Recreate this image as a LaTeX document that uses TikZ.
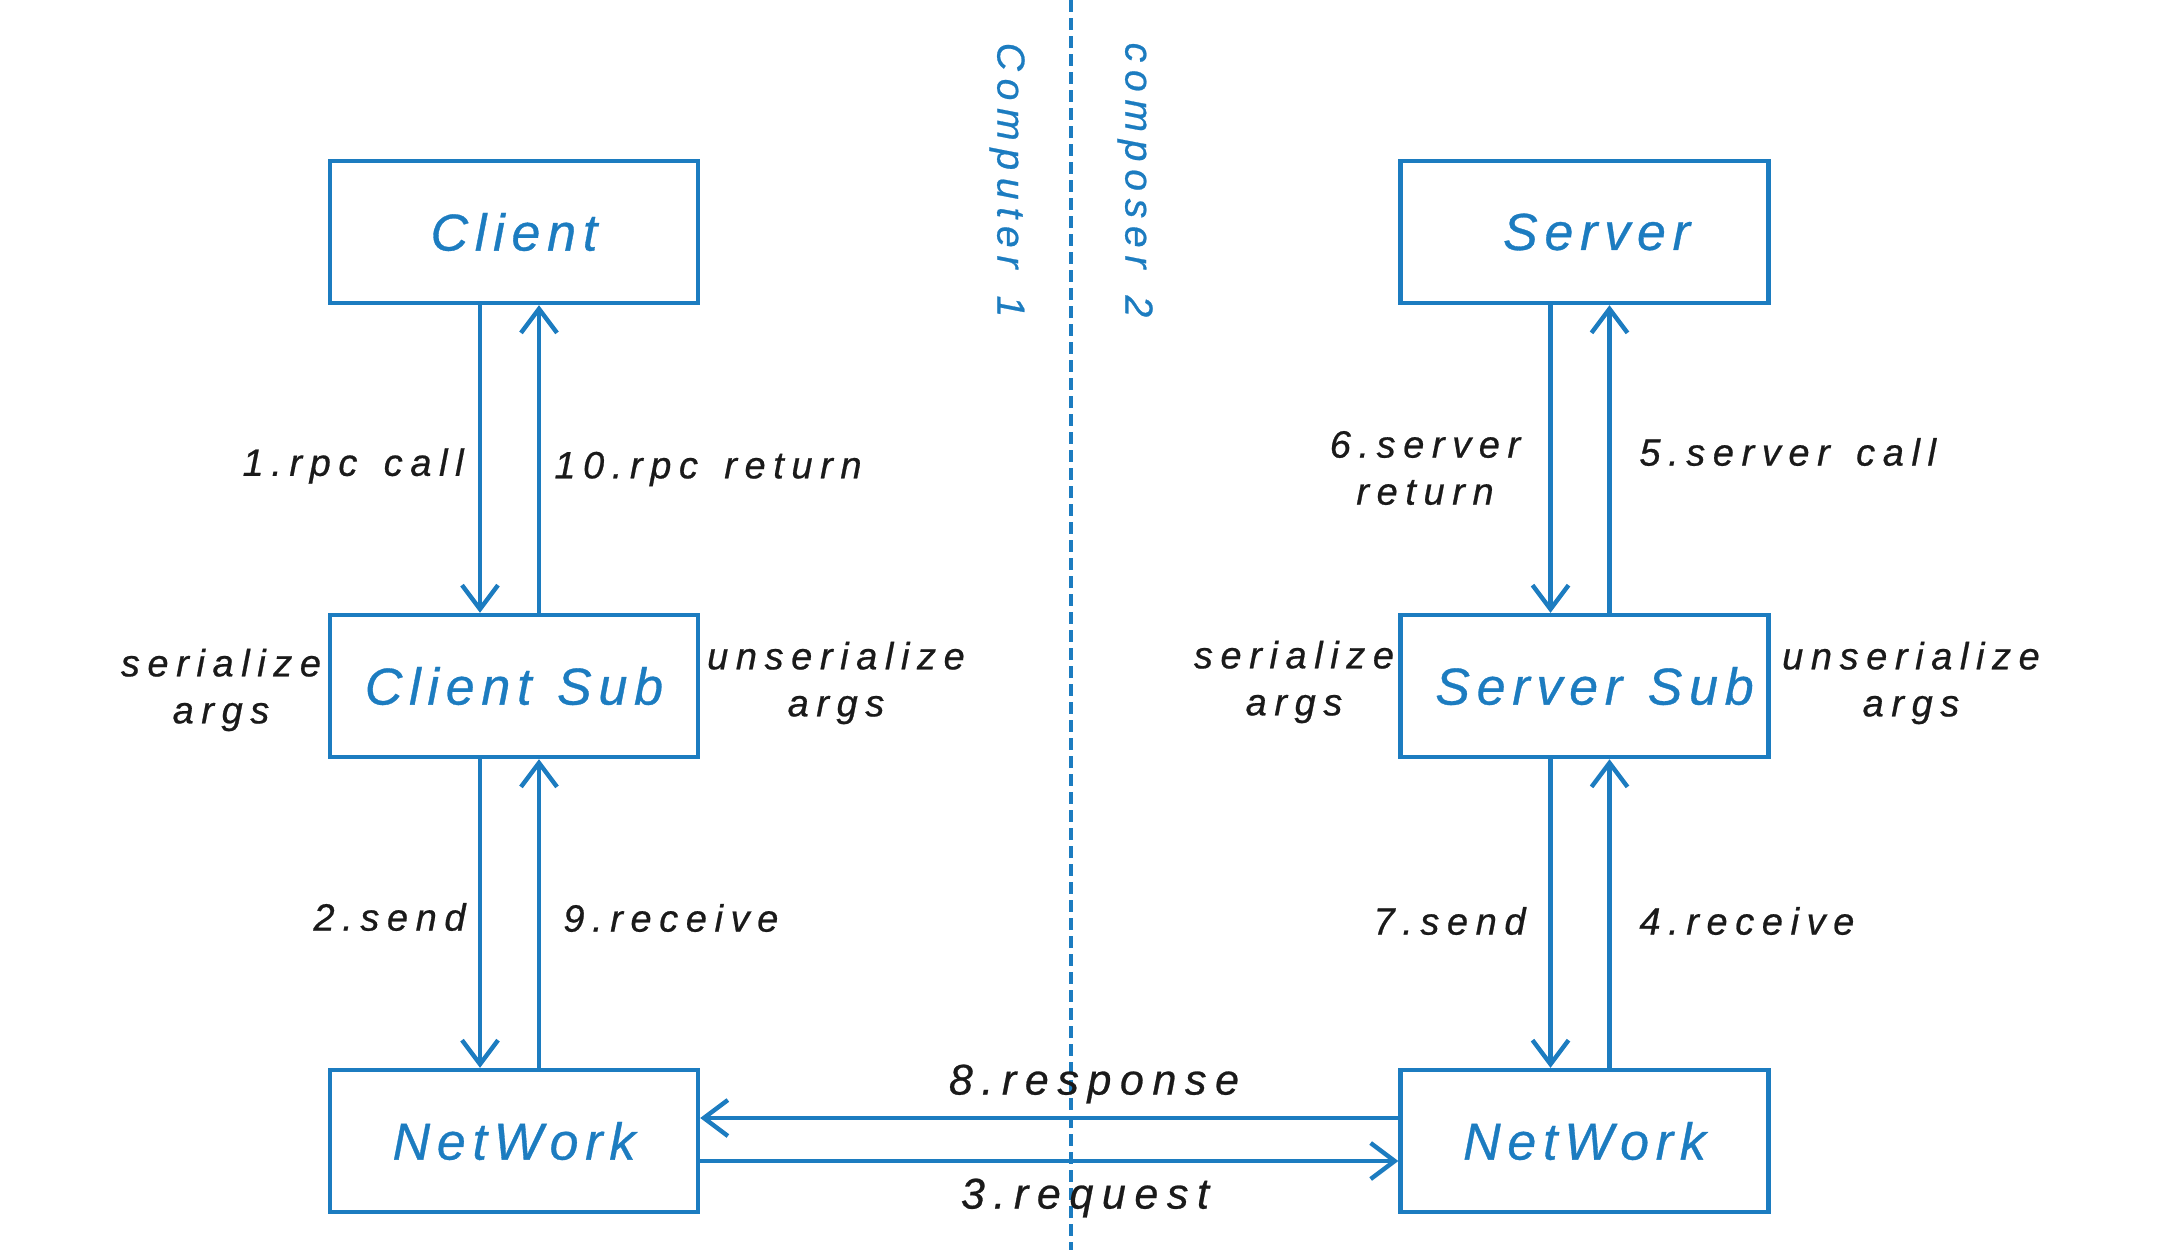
\documentclass[tikz,border=0pt]{standalone}
\usepackage{fontspec}
\usetikzlibrary{arrows.meta}
\newfontfamily\labf{Liberation Sans}[LetterSpace=20, WordSpace=1.45, FakeBold=0.6]
\newfontfamily\boxfont{Liberation Sans}[LetterSpace=13, WordSpace=1.2, FakeBold=0.6]
\definecolor{rpcblue}{HTML}{1C7CC0}
\definecolor{ink}{HTML}{1A1A1A}
\tikzset{
  box/.style={draw=rpcblue, line width=2.2pt, minimum width=184pt, minimum height=71pt, inner sep=0pt,
    text=rpcblue, font=\boxfont\itshape\fontsize{26}{30}\selectfont},
  arr/.style={draw=rpcblue, line width=2.2pt, -{Straight Barb[length=12pt,width=18pt,line width=2.2pt]}},
  lab/.style={text=ink, inner sep=0pt, align=center, font=\labf\itshape\fontsize{19}{23.5}\selectfont},
  biglab/.style={lab, font=\labf\itshape\fontsize{21.5}{25}\selectfont},
  side/.style={text=rpcblue, inner sep=0pt, font=\labf\itshape\fontsize{19.5}{23.5}\selectfont, rotate=-90},
  divider/.style={draw=rpcblue, line width=1.9pt, dash pattern=on 6pt off 3pt}
}
\begin{document}
\begin{tikzpicture}[x=0.5pt,y=-0.5pt]
\useasboundingbox[fill=white] (0,0) rectangle (2162,1250);
% divider
\coordinate (dtop) at (1071,0);
\coordinate (dbot) at (1071,1250);
\draw[divider] (dtop) -- (dbot);
\node[side] (c1) at (1007,180) {Computer 1};
\node[side] (c2) at (1135,180) {composer 2};
% boxes
\node[box] (client) at (514,232) {Client};
\node[box] (csub) at (514,686) {Client Sub};
\node[box] (cnet) at (514,1141) {NetWork};
\node[box] (server) at (1584.5,232) {\hspace*{12pt}Server};
\node[box] (ssub) at (1584.5,686) {\hspace*{10pt}Server Sub};
\node[box] (snet) at (1584.5,1141) {NetWork};
% vertical arrows left
\draw[arr] ([xshift=-17pt]client.south) -- ([xshift=-17pt]csub.north);
\draw[arr] ([xshift=12.5pt]csub.north) -- ([xshift=12.5pt]client.south);
\draw[arr] ([xshift=-17pt]csub.south) -- ([xshift=-17pt]cnet.north);
\draw[arr] ([xshift=12.5pt]cnet.north) -- ([xshift=12.5pt]csub.south);
% vertical arrows right
\draw[arr] ([xshift=-17pt]server.south) -- ([xshift=-17pt]ssub.north);
\draw[arr] ([xshift=12.5pt]ssub.north) -- ([xshift=12.5pt]server.south);
\draw[arr] ([xshift=-17pt]ssub.south) -- ([xshift=-17pt]snet.north);
\draw[arr] ([xshift=12.5pt]snet.north) -- ([xshift=12.5pt]ssub.south);
% horizontal arrows
\draw[arr] ([yshift=11.5pt]snet.west) -- ([yshift=11.5pt]cnet.east);
\draw[arr] ([yshift=-10pt]cnet.east) -- ([yshift=-10pt]snet.west);
% labels
\node[lab, anchor=east] (l1) at (464,466) {1.rpc call};
\node[lab, anchor=west] (l10) at (554,469) {10.rpc return};
\node[lab] (ser1) at (221,690) {serialize\\args};
\node[lab] (unser1) at (836,683) {unserialize\\args};
\node[lab, anchor=east] (l2) at (466,917) {2.send};
\node[lab, anchor=west] (l9) at (563,918) {9.receive};
\node[lab] (l6) at (1425,468) {6.server\\return};
\node[lab, anchor=west] (l5) at (1639,452) {5.server call};
\node[lab] (ser2) at (1294,682) {serialize\\args};
\node[lab] (unser2) at (1911,683) {unserialize\\args};
\node[lab, anchor=east] (l7) at (1526,921) {7.send};
\node[lab, anchor=west] (l4) at (1639,921) {4.receive};
\node[biglab] (l8) at (1094,1084) {8.response};
\node[biglab] (l3) at (1085,1198) {3.request};
\end{tikzpicture}
\end{document}
